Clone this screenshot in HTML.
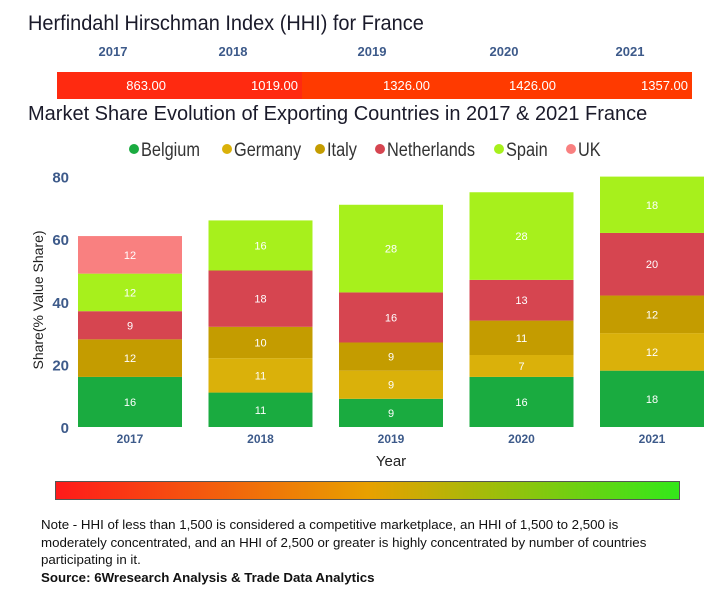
<!DOCTYPE html>
<html><head><meta charset="utf-8"><style>
body{margin:0;background:#fff;width:716px;height:600px;overflow:hidden;font-family:"Liberation Sans","DejaVu Sans",sans-serif;position:relative}
.a{position:absolute}
</style></head><body>
<div class="a" style="left:28px;top:12px;font-size:21px;color:#1a1a2a;white-space:nowrap;transform:scaleX(0.95);transform-origin:left">Herfindahl Hirschman Index (HHI) for France</div>
<div id="hhi"></div>
<div class="a" style="left:28px;top:103px;font-size:20px;color:#1a1a2a;white-space:nowrap">Market Share Evolution of Exporting Countries in 2017 &amp; 2021 France</div>
<svg class="a" style="left:0;top:0" width="716" height="600" id="chart"></svg>
<div class="a" style="left:55px;top:481px;width:625px;height:19px;background:linear-gradient(90deg,#ff1a1a,#e8a000 50%,#33e81a);border:1px solid #555;box-sizing:border-box"></div>
<div class="a" style="left:41px;top:516px;width:632px;font-size:13.3px;line-height:17.5px;color:#111">Note - HHI of less than 1,500 is considered a competitive marketplace, an HHI of 1,500 to 2,500 is moderately concentrated, and an HHI of 2,500 or greater is highly concentrated by number of countries participating in it.<br><b>Source: 6Wresearch Analysis &amp; Trade Data Analytics</b></div>
<script>
const years=['2017','2018','2019','2020','2021'];
const hhi=[863,1019,1326,1426,1357];
const series=['Belgium','Germany','Italy','Netherlands','Spain','UK'];
const colors=['#1aab40','#dab10a','#c49c00','#d64550','#a7f01c','#f98080'];
const belgium=[16,11,9,16,18];
const germany=[0,11,9,7,12];
const italy=[12,10,9,11,12];
const netherlands=[9,18,16,13,20];
const spain=[12,16,28,28,18];
const uk=[12,0,0,0,0];
const yTicks=[0,20,40,60,80];
const data=[belgium,germany,italy,netherlands,spain,uk];
const NS='http://www.w3.org/2000/svg';
const svg=document.getElementById('chart');
const y=v=>427-v*3.13;
const xc=i=>130+i*130.5;
function el(t,a,txt){const e=document.createElementNS(NS,t);for(const k in a)e.setAttribute(k,a[k]);if(txt!==undefined)e.textContent=txt;svg.appendChild(e);return e;}
const hd=document.getElementById('hhi');
years.forEach((yr,i)=>{
 const d=document.createElement('div');d.className='a';
 
 
 d.style.cssText=`left:${[113,233,372,504,630][i]-40}px;top:44px;width:80px;text-align:center;font-weight:bold;font-size:13px;color:#3d5a8a`;
 d.textContent=yr;hd.appendChild(d);
 const c=document.createElement('div');c.className='a';
 
 
 const xs=[57,170,302,434,560,692];
 c.style.cssText=`left:${xs[i]}px;top:72px;width:${xs[i+1]-xs[i]}px;height:27px;background:${i<2?'#ff2a10':'#ff3a00'};color:#fff;font-size:13px;text-align:right;line-height:27px;box-sizing:border-box;padding-right:4px`;
 c.textContent=hhi[i].toFixed(2);hd.appendChild(c);
});
const legX=[134,227,320,380,499,571];
series.forEach((s,i)=>{
 const lx=legX[i];
 const g=el('g',{});
 
 
 const c=document.createElementNS(NS,'circle');c.setAttribute('cx',lx);c.setAttribute('cy',149);c.setAttribute('r',5);c.setAttribute('fill',colors[i]);g.appendChild(c);
 const t=document.createElementNS(NS,'text');t.setAttribute('x',0);t.setAttribute('y',0);t.setAttribute('transform',`translate(${lx+7},156) scale(0.86,1)`);t.setAttribute('font-size','19');t.setAttribute('fill','#333');t.textContent=s;g.appendChild(t);
});
yTicks.forEach(v=>{
 const t=el('text',{x:69,y:y(v)+6,'text-anchor':'end','font-size':15,'font-weight':'bold',fill:'#3d5a8a'},v);
 
 
});
const yt=el('text',{x:0,y:0,transform:'translate(43,300) rotate(-90)','text-anchor':'middle','font-size':14,fill:'#222'},'Share(% Value Share)');


const xt=el('text',{x:391,y:466,'text-anchor':'middle','font-size':15,fill:'#222'},'Year');


years.forEach((yr,i)=>{
 let base=0;
 data.forEach((arr,s)=>{
  const v=arr[i];if(!v)return;
  const r=el('rect',{x:xc(i)-52,y:y(base+v),width:104,height:v*3.13,fill:colors[s]});
  
  
  const l=el('text',{x:xc(i),y:y(base+v/2)+4,'text-anchor':'middle','font-size':11,fill:'#fff'},v);
  
  
  base+=v;
 });
 const t=el('text',{x:xc(i),y:443,'text-anchor':'middle','font-size':12,'font-weight':'bold',fill:'#3d5a8a'},yr);
 
 
});
</script>
</body></html>
